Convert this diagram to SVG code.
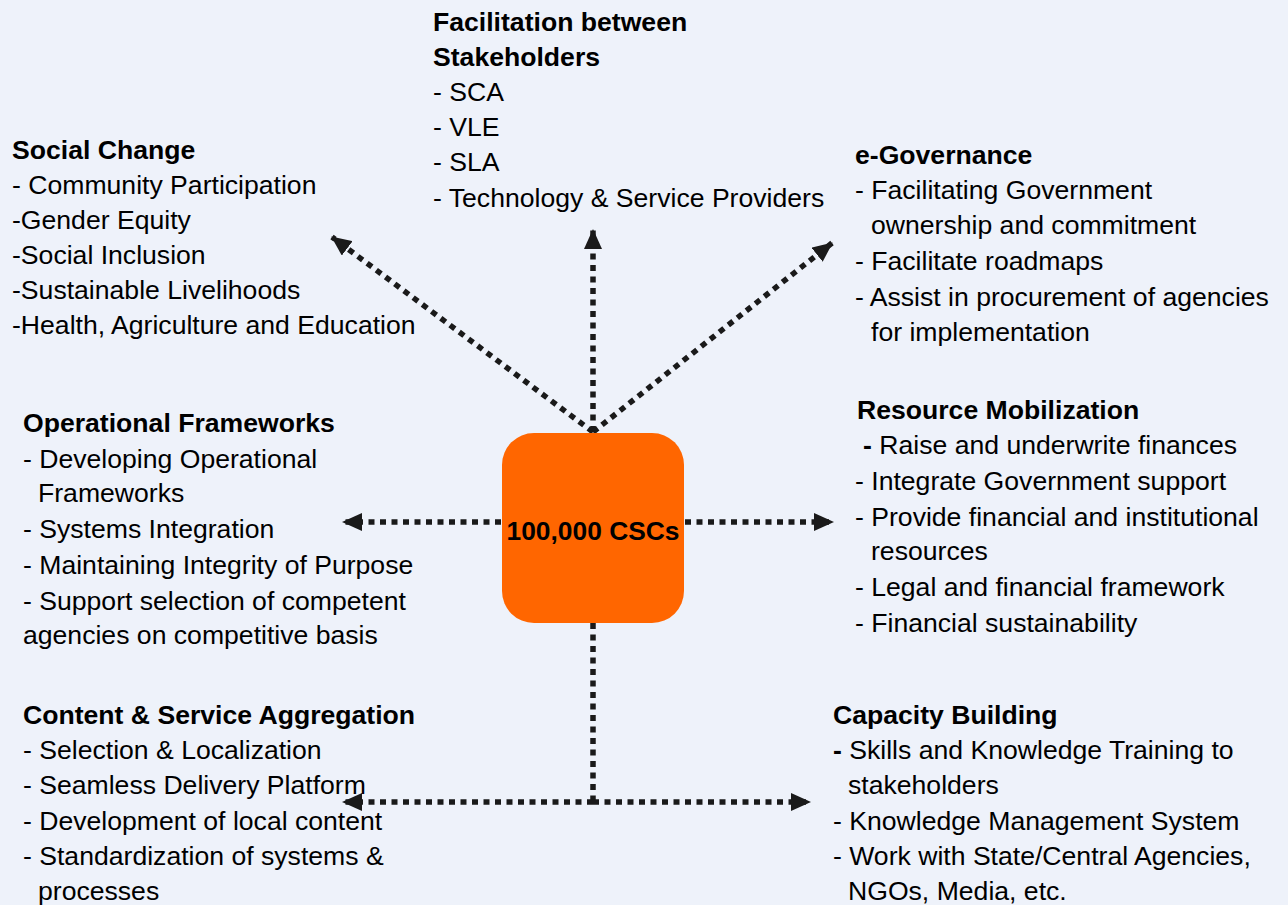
<svg xmlns="http://www.w3.org/2000/svg" width="1288" height="905" viewBox="0 0 1288 905">
<style>
text{font-family:"Liberation Sans",Arial,sans-serif;font-size:26.6px;fill:#000}
.h{font-weight:bold}
.b{font-weight:bold}
.c{stroke:#1a1a1a;stroke-width:5.5;stroke-dasharray:6 5.5;fill:none}
</style>
<defs>
<marker id="ah" markerUnits="userSpaceOnUse" markerWidth="20" markerHeight="18" refX="19" refY="9" orient="auto">
<path d="M0,0 L20,9 L0,18 z" fill="#1a1a1a"/>
</marker>
</defs>
<rect x="0" y="0" width="1288" height="905" fill="#eef2fa"/>
<g id="connectors">
<line class="c" x1="593" y1="432" x2="332" y2="237" marker-end="url(#ah)"/>
<line class="c" x1="593" y1="432" x2="593" y2="230" marker-end="url(#ah)"/>
<line class="c" x1="593" y1="432" x2="832" y2="243" marker-end="url(#ah)"/>
<line class="c" x1="593" y1="522" x2="343" y2="522" marker-end="url(#ah)"/>
<line class="c" x1="593" y1="522" x2="833" y2="522" marker-end="url(#ah)"/>
<line class="c" x1="593" y1="623" x2="593" y2="802"/>
<line class="c" x1="593" y1="802" x2="343" y2="802" marker-end="url(#ah)"/>
<line class="c" x1="593" y1="802" x2="810" y2="802" marker-end="url(#ah)"/>
</g>
<g id="hub">
<rect x="502" y="433" width="182" height="190" rx="32" ry="32" fill="#ff6600"/>
<text class="b" x="593" y="540" text-anchor="middle" font-size="28" textLength="173" lengthAdjust="spacingAndGlyphs">100,000 CSCs</text>
</g>
<g id="social-change">
<text class="h" x="12" y="159">Social Change</text>
<text x="12" y="194">- Community Participation</text>
<text x="12" y="229">-Gender Equity</text>
<text x="12" y="264">-Social Inclusion</text>
<text x="12" y="299">-Sustainable Livelihoods</text>
<text x="12" y="334">-Health, Agriculture and Education</text>
</g>
<g id="facilitation">
<text class="h" x="433" y="31">Facilitation between</text>
<text class="h" x="433" y="66">Stakeholders</text>
<text x="433" y="101">- SCA</text>
<text x="433" y="136">- VLE</text>
<text x="433" y="171">- SLA</text>
<text x="433" y="207">- Technology &amp; Service Providers</text>
</g>
<g id="e-governance">
<text class="h" x="855" y="164">e-Governance</text>
<text x="855" y="199">- Facilitating Government</text>
<text x="871" y="234">ownership and commitment</text>
<text x="855" y="270">- Facilitate roadmaps</text>
<text x="855" y="306">- Assist in procurement of agencies</text>
<text x="871" y="341">for implementation</text>
</g>
<g id="resource-mobilization">
<text class="h" x="857" y="419">Resource Mobilization</text>
<text x="863" y="454"><tspan class="b">-</tspan> Raise and underwrite finances</text>
<text x="855" y="490">- Integrate Government support</text>
<text x="855" y="526">- Provide financial and institutional</text>
<text x="871" y="560">resources</text>
<text x="855" y="596">- Legal and financial framework</text>
<text x="855" y="632">- Financial sustainability</text>
</g>
<g id="operational-frameworks">
<text class="h" x="23" y="432">Operational Frameworks</text>
<text x="23" y="468">- Developing Operational</text>
<text x="38" y="502">Frameworks</text>
<text x="23" y="538">- Systems Integration</text>
<text x="23" y="574">- Maintaining Integrity of Purpose</text>
<text x="23" y="610">- Support selection of competent</text>
<text x="23" y="644">agencies on competitive basis</text>
</g>
<g id="content-aggregation">
<text class="h" x="23" y="724">Content &amp; Service Aggregation</text>
<text x="23" y="759">- Selection &amp; Localization</text>
<text x="23" y="794">- Seamless Delivery Platform</text>
<text x="23" y="830">- Development of local content</text>
<text x="23" y="865">- Standardization of systems &amp;</text>
<text x="38" y="900">processes</text>
</g>
<g id="capacity-building">
<text class="h" x="833" y="724">Capacity Building</text>
<text x="833" y="759"><tspan class="b">-</tspan> Skills and Knowledge Training to</text>
<text x="848" y="794">stakeholders</text>
<text x="833" y="830">- Knowledge Management System</text>
<text x="833" y="865">- Work with State/Central Agencies,</text>
<text x="848" y="900">NGOs, Media, etc.</text>
</g>
</svg>
